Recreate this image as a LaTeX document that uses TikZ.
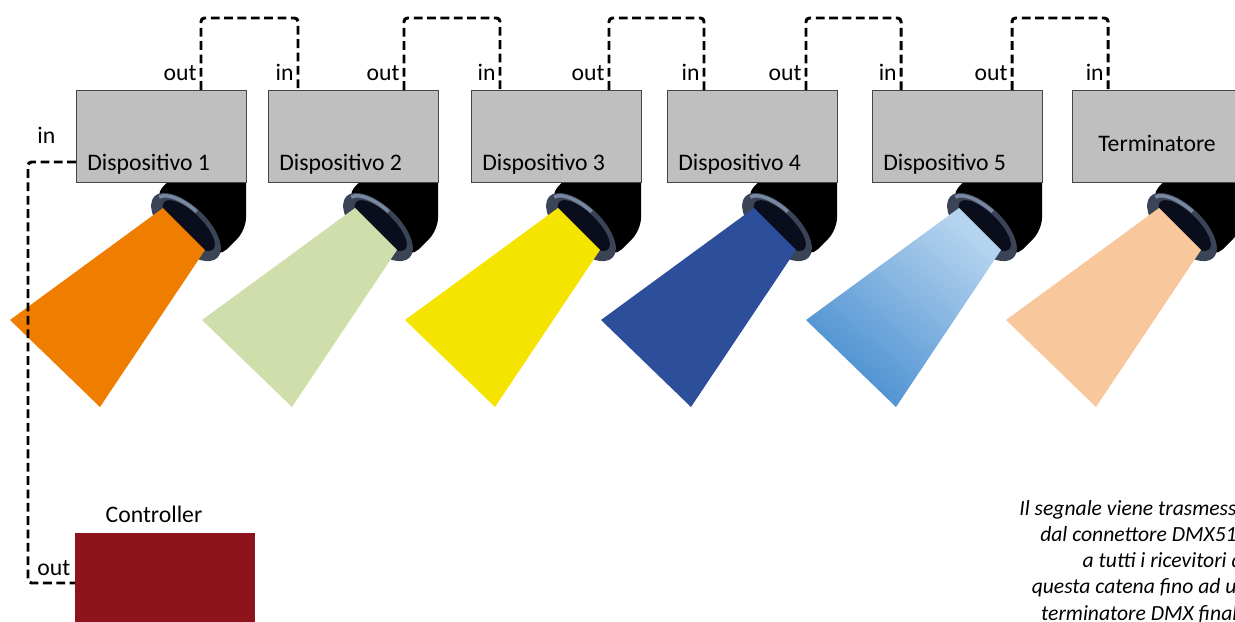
\documentclass[tikz,border=0pt]{standalone}
\usepackage{fontspec}
\setmainfont{Carlito}
\newfontfamily\boxfont{Carlito}[Ligatures=Rare]
\usepackage{tikz}
\usetikzlibrary{positioning,calc}

\definecolor{boxgray}{RGB}{191,191,191}
\definecolor{boxline}{RGB}{70,70,70}
\definecolor{ctlred}{RGB}{142,20,28}
\definecolor{beamA}{RGB}{238,125,0}
\definecolor{beamB}{RGB}{207,222,170}
\definecolor{beamC}{RGB}{245,228,0}
\definecolor{beamD}{RGB}{44,78,155}
\definecolor{beamEa}{RGB}{72,142,208}
\definecolor{beamEb}{RGB}{180,211,238}
\definecolor{beamF}{RGB}{248,200,156}
\definecolor{ringgray}{RGB}{58,68,86}
\definecolor{ringlight}{RGB}{120,136,160}
\definecolor{lensdark}{RGB}{10,14,28}

% spotlight hanging under a box: #1 = left edge of the box, #2 = beam fill
\newcommand{\drawlamp}[2]{%
  \begin{scope}[shift={(#1,0)}]
    \fill[black, rounded corners=7] (78,196) -- (113,160) -- (170,160) -- (170,230) -- (142,258) -- cycle;
    \begin{scope}[shift={(110,227)}, rotate=-44]
      \fill[ringgray] (0,0) ellipse (44 and 21);
      \draw[ringlight, line width=2pt] (-40,-3) arc[start angle=188, end angle=265, x radius=41, y radius=18];
      \fill[lensdark] (1,-3) ellipse (34 and 13);
    \end{scope}
    \path[#2] (87,208) -- (129,250) -- (24,407) -- (-66,320) -- cycle;
  \end{scope}}

\begin{document}
\begin{tikzpicture}[x=0.02cm, y=-0.02cm,
    dev/.style={rectangle, draw=boxline, fill=boxgray, line width=0.8pt, minimum width=3.4cm, minimum height=1.84cm, inner sep=0pt, anchor=north west},
    ctl/.style={rectangle, fill=ctlred, minimum width=3.6cm, minimum height=2cm, inner sep=0pt, anchor=north west},
    lbl/.style={font=\boxfont\fontsize{13.5}{15}\selectfont, inner sep=0pt},
    lnk/.style={line width=1.7pt, dash pattern=on 5pt off 2.6pt, rounded corners=2pt},
    note/.style={font=\fontsize{12.3}{14.9}\selectfont\itshape, align=right, inner sep=0pt}
]
    \useasboundingbox (0,0) rectangle (1235,622);
    \clip (0,0) rectangle (1235,622);

    % lamps go first, the boxes cover their tops
    \drawlamp{76}{fill=beamA}
    \drawlamp{268}{fill=beamB}
    \drawlamp{471}{fill=beamC}
    \drawlamp{667}{fill=beamD}
    \drawlamp{872}{bottom color=beamEa, top color=beamEb, shading angle=-40}
    \drawlamp{1072}{fill=beamF}

    % devices
    \foreach \x/\n in {76/1,268/2,471/3,667/4,872/5} {
        \node[dev] (d\n) at (\x,90) {};
        \node[lbl, anchor=base west] (t\n) at (\x+11,170) {Dispositivo \n};
    }
    \node[dev] (d6) at (1072,90) {};
    \node[lbl] (t6) at (1157,143) {Terminatore};

    \node[ctl] (ctrl) at (75,533) {};
    \node[lbl, anchor=base] (tc) at (154,522) {Controller};

    % ports on top of the boxes
    \foreach \n/\x in {1/201,2/404,3/609,4/806,5/1012}
        \coordinate (o\n) at (\x,90);
    \foreach \n/\x in {2/298,3/500,4/704,5/901,6/1108}
        \coordinate (i\n) at (\x,90);
    \coordinate (i1) at (76,162);
    \coordinate (co) at (75,583);
    \coordinate (bus) at (28,370);

    % daisy chain
    \foreach \a/\b in {1/2,2/3,3/4,4/5,5/6} {
        \draw[lnk] (o\a) -- ++(0,-72) -| (i\b);
        \node[lbl, anchor=base east] at ($(o\a)+(-4,-10)$) {out};
        \node[lbl, anchor=base east] at ($(i\b)+(-4,-10)$) {in};
    }
    \draw[lnk] (i1) -| (bus) |- (co);
    \node[lbl, anchor=base west] at (37,143) {in};
    \node[lbl, anchor=base west] at (37,575) {out};

    % last line sets the base anchor
    \node[note, anchor=base east] (nt) at (1248,620) {Il segnale viene trasmesso\\dal connettore DMX512\\a tutti i ricevitori di\\questa catena fino ad un\\terminatore DMX finale};
\end{tikzpicture}
\end{document}
